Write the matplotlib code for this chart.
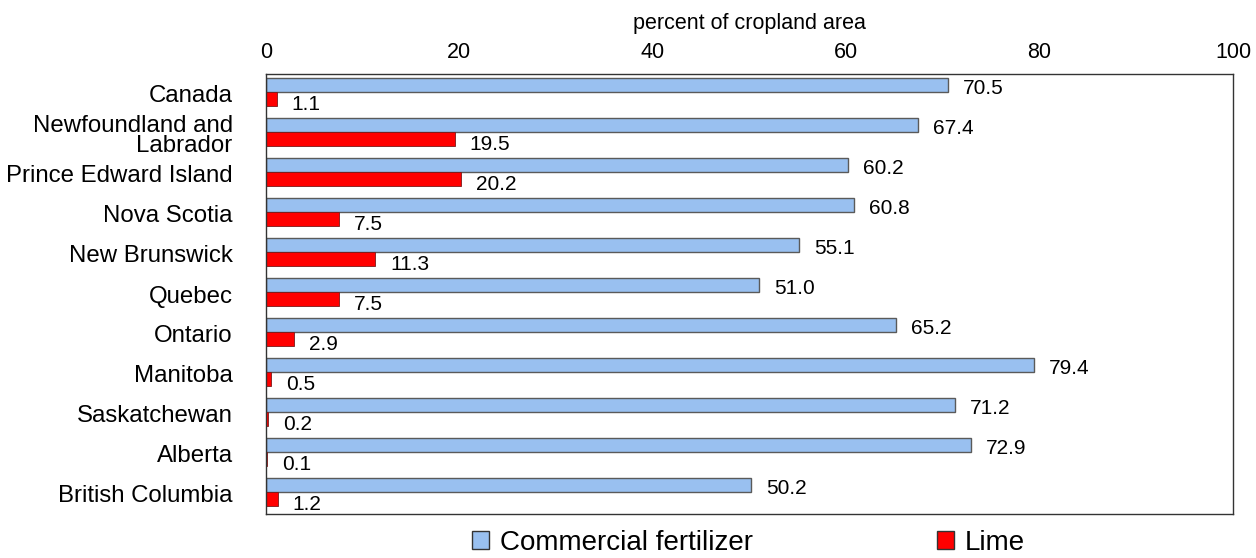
import matplotlib
matplotlib.use("Agg")
import matplotlib.pyplot as plt
import numpy as np
from matplotlib.patches import Patch

categories = ["Canada", "Newfoundland and\nLabrador", "Prince Edward Island", "Nova Scotia",
              "New Brunswick", "Quebec", "Ontario", "Manitoba", "Saskatchewan", "Alberta",
              "British Columbia"]
fertilizer = [70.5, 67.4, 60.2, 60.8, 55.1, 51.0, 65.2, 79.4, 71.2, 72.9, 50.2]
lime = [1.1, 19.5, 20.2, 7.5, 11.3, 7.5, 2.9, 0.5, 0.2, 0.1, 1.2]
xticks = [0, 20, 40, 60, 80, 100]

plt.rcParams['font.family'] = ['Liberation Sans', 'DejaVu Sans']

fig = plt.figure(figsize=(12.56, 5.58), dpi=100)
ax = fig.add_axes([266/1256, 1 - 514/558, (1233-266)/1256, (514-74)/558])

n = len(categories)
y = np.arange(n) - 0.05
h = 0.36
blue = '#99C0F0'
red = '#FF0000'
edge = '#5a5a5a'
ax.barh(y - h/2, fertilizer, height=h, color=blue, edgecolor=edge, linewidth=1.0)
ax.barh(y + h/2, lime, height=h, color=red, edgecolor='#7a1a1a', linewidth=0.6)

for yi, v in zip(y, fertilizer):
    ax.annotate(f"{v:.1f}", (v, yi - h/2), xytext=(15, -4), textcoords='offset pixels',
                ha='left', va='center', fontsize=15)
for yi, v in zip(y, lime):
    ax.annotate(f"{v:.1f}", (v, yi + h/2), xytext=(15, -5), textcoords='offset pixels',
                ha='left', va='center', fontsize=15)

ax.set_xlim(0, 100)
ax.set_ylim(n - 0.5, -0.5)
ax.set_xticks(xticks)
ax.xaxis.tick_top()
ax.xaxis.set_label_position('top')
ax.set_xlabel("percent of cropland area", fontsize=15.5, labelpad=9)
ax.tick_params(axis='x', length=0, labelsize=15.5, pad=8)
ax.set_yticks(np.arange(n))
ax.set_yticklabels(categories, fontsize=17.3, linespacing=0.92)
ax.tick_params(axis='y', length=0, pad=24)
for s in ax.spines.values():
    s.set_color('#333333')
    s.set_linewidth(1.0)

handles = [Patch(facecolor=blue, edgecolor='#333333', label='Commercial fertilizer'),
           Patch(facecolor=red, edgecolor='#333333', label='Lime')]
fig.legend(handles=handles, loc='center', bbox_to_anchor=(748.5/1256, 1 - 543/558), ncol=2,
           frameon=False, fontsize=20, columnspacing=6.6, handlelength=0.62, handleheight=0.62,
           handletextpad=0.4, borderpad=0)

fig.savefig("out.png", dpi=100)
